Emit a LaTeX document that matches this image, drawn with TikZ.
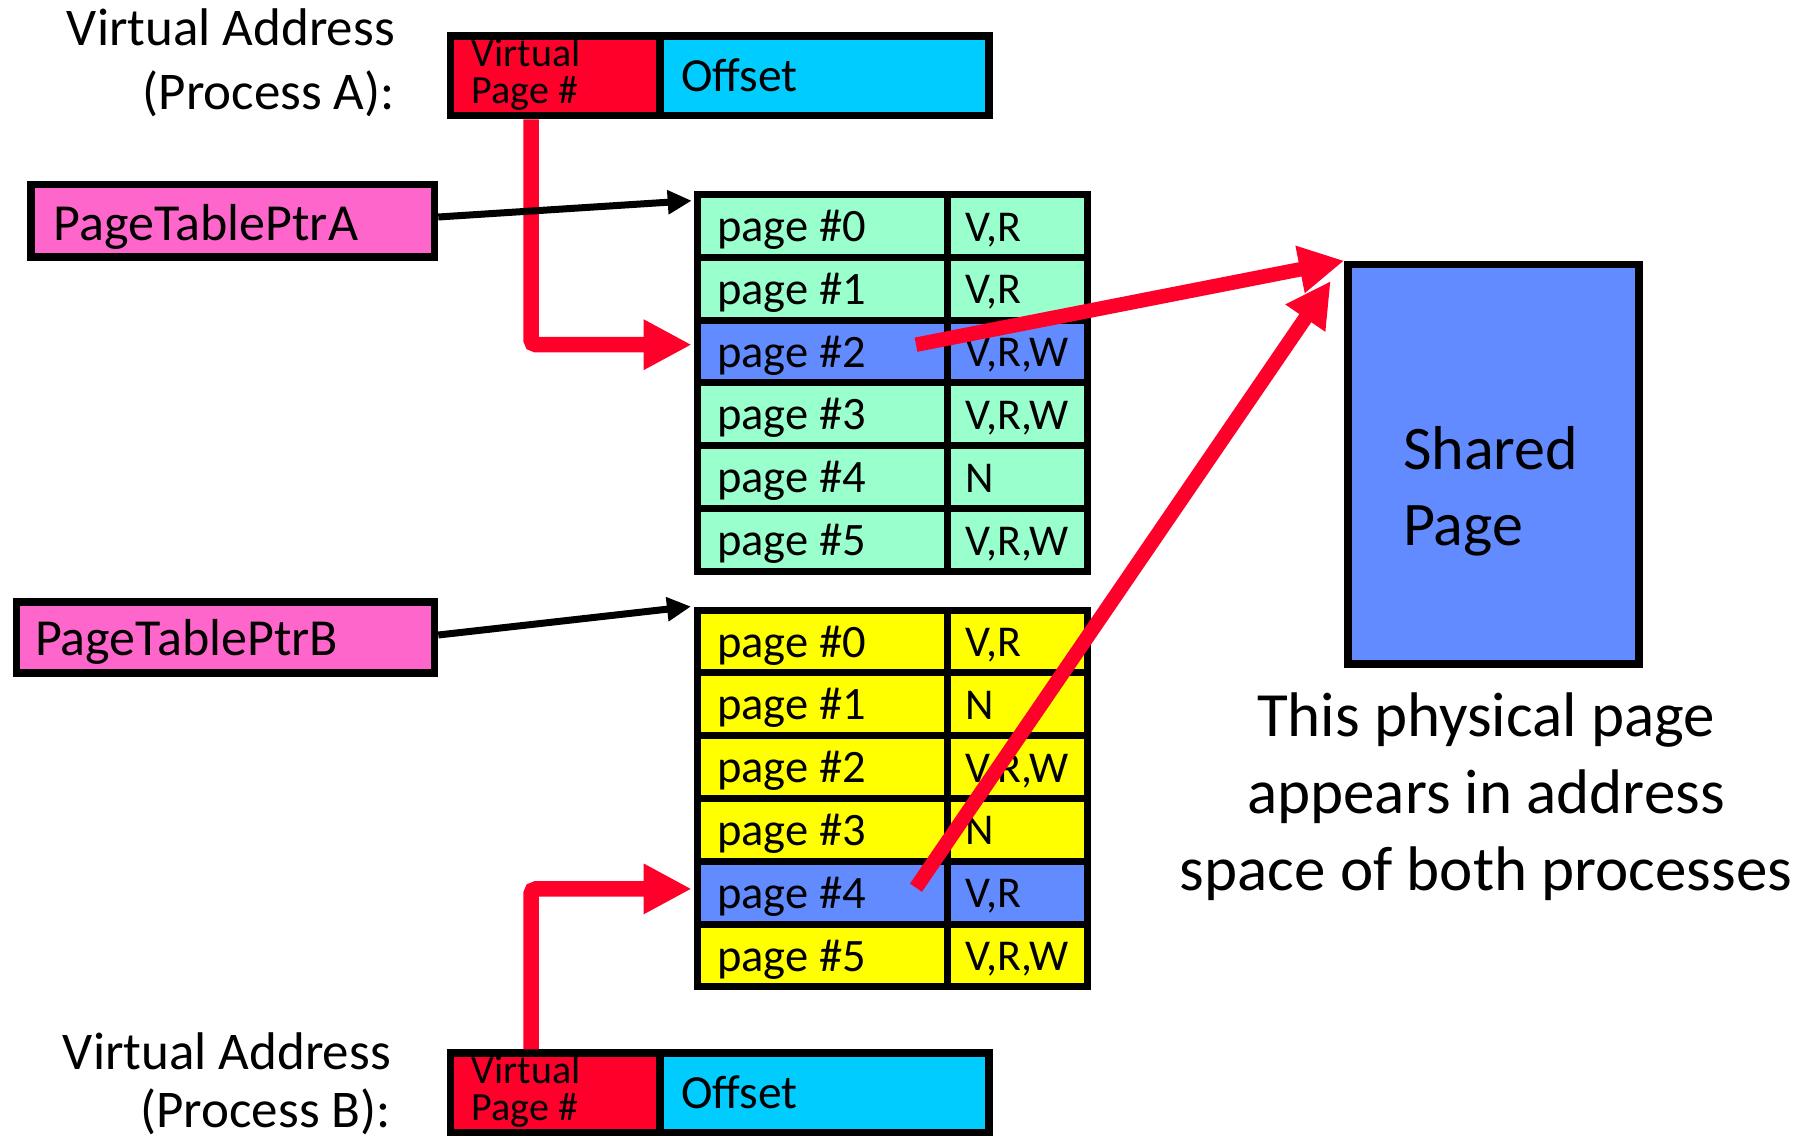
\documentclass[tikz,border=0pt]{standalone}
\usepackage{fontspec}
\setmainfont{Carlito}
\usetikzlibrary{arrows.meta,calc}
\definecolor{vred}{RGB}{255,0,43}
\definecolor{vcyan}{RGB}{0,204,255}
\definecolor{vpink}{RGB}{255,102,204}
\definecolor{vmint}{RGB}{153,255,204}
\definecolor{vyellow}{RGB}{255,255,0}
\definecolor{vblue}{RGB}{97,139,255}
\newcommand\setfs[2]{\fontsize{#1}{#2}\selectfont}
\begin{document}
\begin{tikzpicture}[x=1pt,y=-1pt,
  box/.style={draw=black,line width=7.6pt,inner sep=0pt,rectangle},
  cellL/.style={draw=black,line width=7pt,inner sep=0pt,minimum width=250pt,minimum height=62.8pt},
  cellR/.style={draw=black,line width=7pt,inner sep=0pt,minimum width=140.5pt,minimum height=62.8pt},
  lbl/.style={inner sep=0pt},
  pagetxt/.style={lbl,anchor=base west,font=\setfs{46.5}{50}},
  flagtxt/.style={lbl,anchor=base west,font=\setfs{44}{48}},
  redarrow/.style={draw=vred,line width=15.5pt,rounded corners=5pt,-{Triangle[length=48pt,width=47pt]}},
  redline/.style={draw=vred,line width=14.5pt,-{Triangle[length=45pt,width=45pt]}},
  blackarrow/.style={draw=black,line width=7pt,-{Triangle[length=24pt,width=23pt]}},
]
\useasboundingbox (0,0) rectangle (1806,1142);

% --- virtual address boxes ---
\node[box,fill=vred,minimum width=209.5pt,minimum height=79.5pt] (vpnA) at (555.25,75.75) {};
\node[box,fill=vcyan,minimum width=329.2pt,minimum height=79.5pt] (offA) at (824.6,75.75) {};
\node[box,fill=vred,minimum width=209.5pt,minimum height=79.5pt] (vpnB) at (555.25,1092.85) {};
\node[box,fill=vcyan,minimum width=329.2pt,minimum height=79.5pt] (offB) at (824.6,1092.85) {};

\node[lbl,anchor=base west,align=left,font=\setfs{40}{36.6}] (vpnAt) at (471.7,103.3) {Virtual\\Page \#};
\node[lbl,anchor=base west,font=\setfs{47.5}{50}] (offAt) at (681,91.7) {Offset};
\node[lbl,anchor=base west,align=left,font=\setfs{40}{36.6}] (vpnBt) at (471.7,1120.3) {Virtual\\Page \#};
\node[lbl,anchor=base west,font=\setfs{47.5}{50}] (offBt) at (681,1108.7) {Offset};

\node[lbl,anchor=base east,align=right,font=\setfs{53}{64.3}] (labA) at (395,110) {Virtual Address\\(Process A):};
\node[lbl,anchor=base east,align=right,font=\setfs{53}{58}] (labB) at (391,1127) {Virtual Address\\(Process B):};

% --- page table pointers ---
\node[box,fill=vpink,minimum width=403.3pt,minimum height=72.5pt] (ptra) at (232.85,220.75) {};
\node[lbl,anchor=base west,font=\setfs{52}{56}] (ptrat) at (53.3,240) {PageTablePtrA};
\node[box,fill=vpink,minimum width=418pt,minimum height=71pt] (ptrb) at (225.5,637.5) {};
\node[lbl,anchor=base west,font=\setfs{52}{56}] (ptrbt) at (35,655) {PageTablePtrB};

% --- page table A ---
\foreach \i/\fl/\c in {0/{V,R}/vmint,1/{V,R}/vmint,2/{V,R,W}/vblue,3/{V,R,W}/vmint,4/{N}/vmint,5/{V,R,W}/vmint}{
  \node[cellL,fill=\c] (aL\i) at (822,{194.5+62.8*(\i+0.5)}) {};
  \node[cellR,fill=\c] (aR\i) at (1017.25,{194.5+62.8*(\i+0.5)}) {};
  \node[pagetxt] at ($(aL\i.north west)+(23.5,50.5)$) {page \#\i};
  \node[flagtxt] at ($(aR\i.north west)+(21.5,50)$) {\fl};
}
% --- page table B ---
\foreach \i/\fl/\c in {0/{V,R}/vyellow,1/{N}/vyellow,2/{V,R,W}/vyellow,3/{N}/vyellow,4/{V,R}/vblue,5/{V,R,W}/vyellow}{
  \node[cellL,fill=\c] (bL\i) at (822,{610+62.8*(\i+0.5)}) {};
  \node[cellR,fill=\c] (bR\i) at (1017.25,{610+62.8*(\i+0.5)}) {};
  \node[pagetxt] at ($(bL\i.north west)+(23.5,50.5)$) {page \#\i};
  \node[flagtxt] at ($(bR\i.north west)+(21.5,50)$) {\fl};
}

% --- shared page ---
\node[box,fill=vblue,minimum width=291pt,minimum height=399.5pt] (shared) at (1493.5,464.25) {};
\node[lbl,anchor=base west,align=left,font=\setfs{62}{76}] (sharedt) at (1403,545) {Shared\\Page};
\node[lbl,anchor=base,align=center,font=\setfs{63}{77}] (caption) at (1486,890) {This physical page\\appears in address\\space of both processes};

% --- connectors ---
\draw[redarrow] ([xshift=-24.25pt]vpnA.south) |- ([xshift=-1.8pt,yshift=6.8pt]aL2.west);
\draw[redarrow] ([xshift=-24.25pt]vpnB.north) |- ([xshift=-1.8pt,yshift=3.7pt]bL4.west);
\draw[blackarrow] ([yshift=3.75pt]ptra.east) -- ([xshift=-1.8pt,yshift=-9.7pt]aL0.north west);
\draw[blackarrow] ([yshift=2.5pt]ptrb.east) -- ([xshift=-2.5pt]bL0.north west);
\draw[redline] ([xshift=94pt,yshift=6.8pt]aL2.center) -- (shared.north west);
\draw[redline] ([xshift=94pt,yshift=4.9pt]bL4.center) -- ([xshift=-13.5pt,yshift=-20.3pt]shared.north west);
\end{tikzpicture}
\end{document}
